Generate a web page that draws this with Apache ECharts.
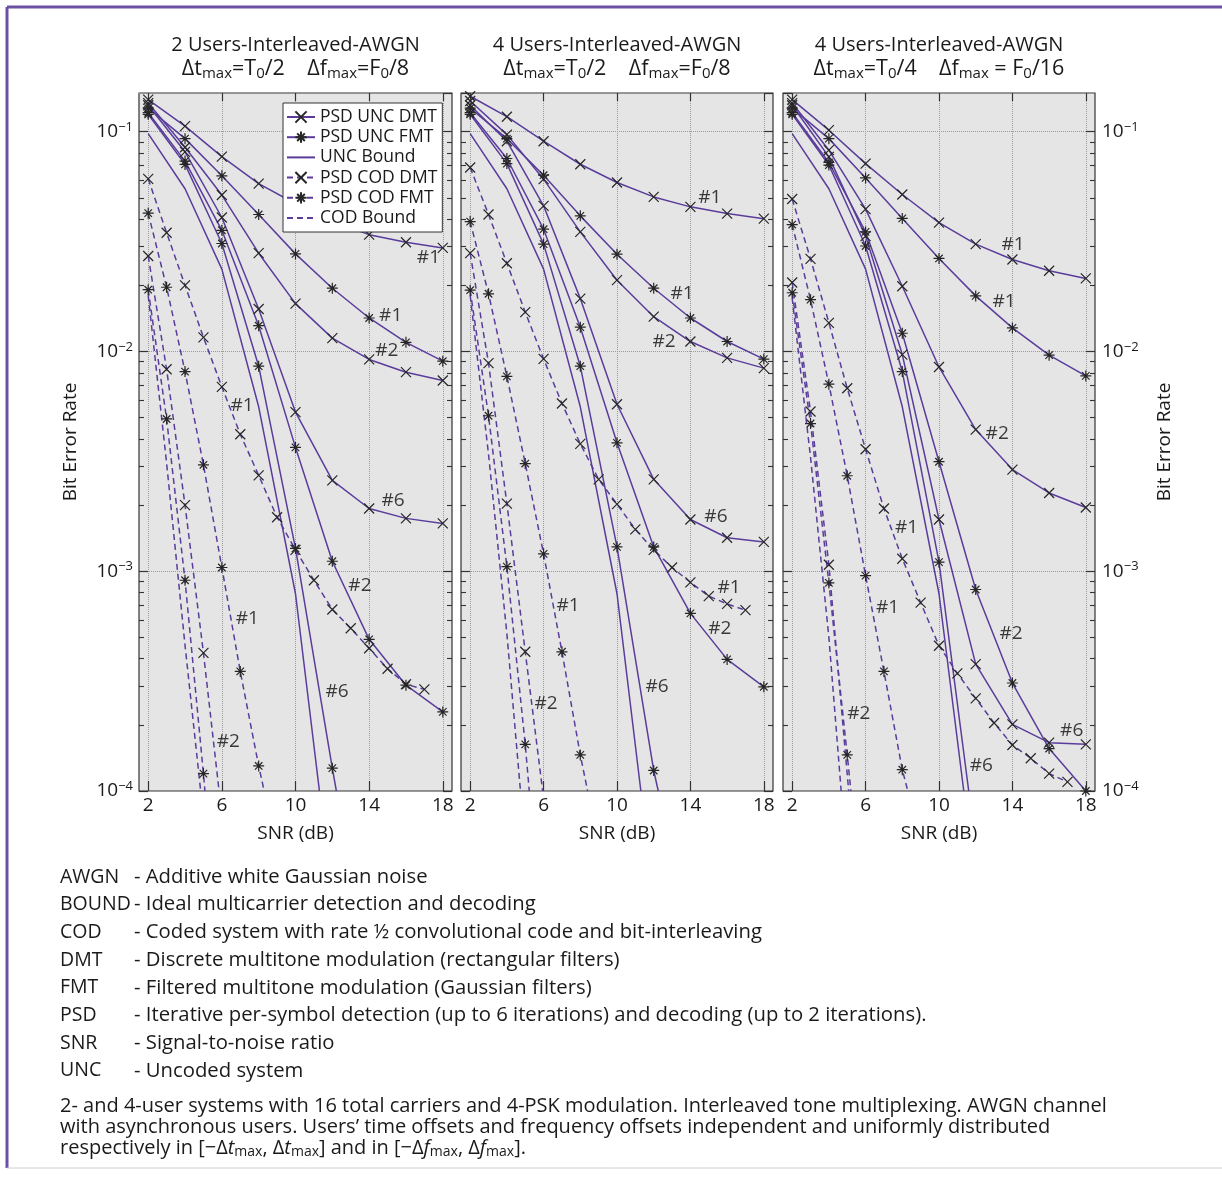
<!DOCTYPE html>
<html><head><meta charset="utf-8">
<script src="https://cdn.jsdelivr.net/npm/echarts@6/dist/echarts.min.js"></script>
<style>html,body{margin:0;padding:0;background:#fff}#c{width:1222px;height:1195px}</style>
</head><body><div id="c"></div>
<script>
// ---------------- DATA (SNR dB, bit error rate) ----------------
const snrTicks = [2, 6, 10, 14, 18];
const legendNames = ['PSD UNC DMT','PSD UNC FMT','UNC Bound','PSD COD DMT','PSD COD FMT','COD Bound'];

// Panel 1: 2 users, dt=T0/2, df=F0/8
const a_uncDmt1 = [[2,0.14],[4,0.106],[6,0.077],[8,0.058],[10,0.047],[12,0.039],[14,0.034],[16,0.0314],[18,0.0296]];
const a_uncDmt2 = [[2,0.135],[4,0.085],[6,0.0515],[8,0.028],[10,0.0165],[12,0.0115],[14,0.0092],[16,0.00805],[18,0.00738]];
const a_uncDmt6 = [[2,0.132],[4,0.081],[6,0.0407],[8,0.0156],[10,0.0053],[12,0.00259],[14,0.00193],[16,0.00174],[18,0.00165]];
const a_uncFmt1 = [[2,0.128],[4,0.093],[6,0.063],[8,0.042],[10,0.0278],[12,0.0194],[14,0.0142],[16,0.011],[18,0.00903]];
const a_uncFmt2 = [[2,0.122],[4,0.0735],[6,0.0356],[8,0.0131],[10,0.00366],[12,0.00111],[14,0.00049],[16,0.000303],[18,0.000229]];
const a_uncFmt6 = [[2,0.12],[4,0.071],[6,0.031],[8,0.00857],[10,0.00127],[12,0.000127],[12.22,0.0001]];
const a_uncBound = [[2,0.098],[4,0.055],[6,0.0237],[8,0.0056],[10,0.00079],[11.3,0.0001]];
const a_codDmt1 = [[2,0.061],[3,0.0347],[4,0.02],[5,0.0116],[6,0.0069],[7,0.0042],[8,0.00273],[9,0.00176],[10,0.00125],[11,0.00091],[12,0.00067],[13,0.00055],[14,0.000446],[15,0.00036],[16,0.000306],[17,0.00029]];
const a_codDmt2 = [[2,0.0272],[3,0.0083],[4,0.002],[5,0.000425],[5.85,0.0001]];
const a_codFmt1 = [[2,0.0426],[3,0.0196],[4,0.0081],[5,0.00305],[6,0.00104],[7,0.00035],[8,0.00013],[8.3,0.0001]];
const a_codFmt2 = [[2,0.0191],[3,0.00493],[4,0.00091],[5,0.00012],[5.08,0.0001]];
const a_codBound = [[2,0.018],[3,0.0031],[4,0.00046],[4.85,0.0001]];
const a_notes = [[17.22,0.0266,'#1'],[15.17,0.0146,'#1'],[14.96,0.0101,'#2'],[7.1,0.0057,'#1'],[15.3,0.0021,'#6'],[13.5,0.00086,'#2'],[7.38,0.00061,'#1'],[12.26,0.000282,'#6'],[6.35,0.000167,'#2']];

// Panel 2: 4 users, dt=T0/2, df=F0/8
const b_uncDmt1 = [[2,0.145],[4,0.117],[6,0.0905],[8,0.0711],[10,0.0587],[12,0.0505],[14,0.0455],[16,0.0424],[18,0.0402]];
const b_uncDmt2 = [[2,0.138],[4,0.097],[6,0.0608],[8,0.035],[10,0.0211],[12,0.0144],[14,0.0111],[16,0.00935],[18,0.0084]];
const b_uncDmt6 = [[2,0.132],[4,0.0905],[6,0.046],[8,0.0174],[10,0.00575],[12,0.00262],[14,0.00172],[16,0.00142],[18,0.00136]];
const b_uncFmt1 = [[2,0.128],[4,0.093],[6,0.0634],[8,0.0414],[10,0.0277],[12,0.0194],[14,0.0142],[16,0.0111],[18,0.00923]];
const b_uncFmt2 = [[2,0.122],[4,0.0755],[6,0.036],[8,0.0129],[10,0.00384],[12,0.00129],[14,0.000643],[16,0.000397],[18,0.000298]];
const b_uncFmt6 = [[2,0.12],[4,0.0716],[6,0.0308],[8,0.00857],[10,0.00129],[12,0.000124],[12.25,0.0001]];
const b_uncBound = [[2,0.098],[4,0.055],[6,0.0237],[8,0.0056],[10,0.00079],[11.3,0.0001]];
const b_codDmt1 = [[2,0.0687],[3,0.042],[4,0.0252],[5,0.0151],[6,0.00925],[7,0.0058],[8,0.0038],[9,0.00262],[10,0.00202],[11,0.00155],[12,0.00125],[13,0.00104],[14,0.00089],[15,0.00077],[16,0.00071],[17,0.000665]];
const b_codDmt2 = [[2,0.028],[3,0.00885],[4,0.00203],[5,0.00043],[5.95,0.0001]];
const b_codFmt1 = [[2,0.039],[3,0.0183],[4,0.0077],[5,0.00309],[6,0.0012],[7,0.00043],[8,0.000146],[8.4,0.0001]];
const b_codFmt2 = [[2,0.019],[3,0.0051],[4,0.00105],[5,0.000163],[5.22,0.0001]];
const b_codBound = [[2,0.018],[3,0.0034],[4,0.00052],[4.74,0.0001]];
const b_notes = [[15.06,0.0504,'#1'],[13.54,0.0184,'#1'],[12.56,0.0111,'#2'],[15.39,0.00178,'#6'],[16.1,0.00084,'#1'],[7.33,0.0007,'#1'],[15.6,0.00055,'#2'],[12.18,0.0003,'#6'],[6.14,0.00025,'#2']];

// Panel 3: 4 users, dt=T0/4, df=F0/16
const c_uncDmt1 = [[2,0.14],[4,0.1016],[6,0.0716],[8,0.0518],[10,0.0386],[12,0.0308],[14,0.0262],[16,0.0233],[18,0.0215]];
const c_uncDmt2 = [[2,0.135],[4,0.0824],[6,0.0444],[8,0.0198],[10,0.0085],[12,0.00441],[14,0.0029],[16,0.00227],[18,0.00195]];
const c_uncDmt6 = [[2,0.132],[4,0.0768],[6,0.0335],[8,0.00968],[10,0.00172],[12,0.000378],[14,0.000201],[16,0.000166],[18,0.000163]];
const c_uncFmt1 = [[2,0.128],[4,0.093],[6,0.0616],[8,0.0403],[10,0.0265],[12,0.0179],[14,0.0128],[16,0.00962],[18,0.00774]];
const c_uncFmt2 = [[2,0.122],[4,0.0724],[6,0.035],[8,0.0121],[10,0.00315],[12,0.000826],[14,0.00031],[16,0.000156],[18,0.0001]];
const c_uncFmt6 = [[2,0.12],[4,0.0705],[6,0.0302],[8,0.0081],[10,0.0011],[11.62,0.0001]];
const c_uncBound = [[2,0.098],[4,0.055],[6,0.0237],[8,0.0056],[10,0.00079],[11.35,0.0001]];
const c_codDmt1 = [[2,0.0494],[3,0.0264],[4,0.0135],[5,0.0068],[6,0.00359],[7,0.00193],[8,0.00114],[9,0.00072],[10,0.000458],[11,0.000343],[12,0.000264],[13,0.000204],[14,0.000162],[15,0.000141],[16,0.00012],[17,0.00011]];
const c_codDmt2 = [[2,0.0206],[3,0.00533],[4,0.00107],[5.08,0.0001]];
const c_codFmt1 = [[2,0.0378],[3,0.0172],[4,0.0071],[5,0.00272],[6,0.000955],[7,0.00035],[8,0.000125],[8.3,0.0001]];
const c_codFmt2 = [[2,0.0185],[3,0.0047],[4,0.000885],[5,0.000146],[5.2,0.0001]];
const c_codBound = [[2,0.0175],[3,0.0033],[4,0.0005],[4.67,0.0001]];
const c_notes = [[14.04,0.0308,'#1'],[13.55,0.0169,'#1'],[13.17,0.00425,'#2'],[8.23,0.00158,'#1'],[7.2,0.000686,'#1'],[13.93,0.00052,'#2'],[5.63,0.000224,'#2'],[17.23,0.000189,'#6'],[12.3,0.00013,'#6']];

const glossary = [
  ['AWGN','Additive white Gaussian noise'],
  ['BOUND','Ideal multicarrier detection and decoding'],
  ['COD','Coded system with rate \u00bd convolutional code and bit-interleaving'],
  ['DMT','Discrete multitone modulation (rectangular filters)'],
  ['FMT','Filtered multitone modulation (Gaussian filters)'],
  ['PSD','Iterative per-symbol detection (up to 6 iterations) and decoding (up to 2 iterations).'],
  ['SNR','Signal-to-noise ratio'],
  ['UNC','Uncoded system']
];

// ---------------- STYLE / LAYOUT ----------------
const FONT = "'Open Sans','Noto Sans','DejaVu Sans',sans-serif";
const PURPLE = '#5a3c9b';
const INK = '#1a1a1a';
const MARK = '#262626';
const YMIN = 1e-4, YMAX = 0.15;
const LOGMAX = Math.log10(YMAX);
const X_SYM = 'path://M0,0L10,10M10,0L0,10';
const STAR_SYM = 'path://M5,0L5,10M0,5L10,5M1.6,1.6L8.4,8.4M8.4,1.6L1.6,8.4';

const minorExp = [];
for (let d = -4; d <= -2; d++) for (let k = 2; k <= 9; k++) minorExp.push(d + Math.log10(k));

const panels = [
  {left:139, width:313, s:{uncDmt1:a_uncDmt1,uncDmt2:a_uncDmt2,uncDmt6:a_uncDmt6,uncFmt1:a_uncFmt1,uncFmt2:a_uncFmt2,uncFmt6:a_uncFmt6,uncBound:a_uncBound,codDmt1:a_codDmt1,codDmt2:a_codDmt2,codFmt1:a_codFmt1,codFmt2:a_codFmt2,codBound:a_codBound}, notes:a_notes,
   t1:'2 Users-Interleaved-AWGN', t2:'{n|\u0394t}{s|max}{n|=T}{s|0}{n|/2    \u0394f}{s|max}{n|=F}{s|0}{n|/8}'},
  {left:461, width:312, s:{uncDmt1:b_uncDmt1,uncDmt2:b_uncDmt2,uncDmt6:b_uncDmt6,uncFmt1:b_uncFmt1,uncFmt2:b_uncFmt2,uncFmt6:b_uncFmt6,uncBound:b_uncBound,codDmt1:b_codDmt1,codDmt2:b_codDmt2,codFmt1:b_codFmt1,codFmt2:b_codFmt2,codBound:b_codBound}, notes:b_notes,
   t1:'4 Users-Interleaved-AWGN', t2:'{n|\u0394t}{s|max}{n|=T}{s|0}{n|/2    \u0394f}{s|max}{n|=F}{s|0}{n|/8}'},
  {left:783, width:312, s:{uncDmt1:c_uncDmt1,uncDmt2:c_uncDmt2,uncDmt6:c_uncDmt6,uncFmt1:c_uncFmt1,uncFmt2:c_uncFmt2,uncFmt6:c_uncFmt6,uncBound:c_uncBound,codDmt1:c_codDmt1,codDmt2:c_codDmt2,codFmt1:c_codFmt1,codFmt2:c_codFmt2,codBound:c_codBound}, notes:c_notes,
   t1:'4 Users-Interleaved-AWGN', t2:'{n|\u0394t}{s|max}{n|=T}{s|0}{n|/4    \u0394f}{s|max}{n| = F}{s|0}{n|/16}'}
];

const kinds = [
  ['UNC Bound','uncBound',null,false],
  ['COD Bound','codBound',null,true],
  ['PSD COD DMT','codDmt1',X_SYM,true],
  ['PSD COD DMT','codDmt2',X_SYM,true],
  ['PSD COD FMT','codFmt1',STAR_SYM,true],
  ['PSD COD FMT','codFmt2',STAR_SYM,true],
  ['PSD UNC DMT','uncDmt1',X_SYM,false],
  ['PSD UNC DMT','uncDmt2',X_SYM,false],
  ['PSD UNC DMT','uncDmt6',X_SYM,false],
  ['PSD UNC FMT','uncFmt1',STAR_SYM,false],
  ['PSD UNC FMT','uncFmt2',STAR_SYM,false],
  ['PSD UNC FMT','uncFmt6',STAR_SYM,false]
];

const supRich = {
  a:{fontSize:19, lineHeight:22, color:INK, fontFamily:FONT},
  b:{fontSize:13, lineHeight:12, color:INK, fontFamily:FONT, verticalAlign:'top'}
};
function decadeLabel(v){
  const l = Math.log10(v), e = Math.round(l);
  if (Math.abs(l - e) > 1e-6) return '';
  return '{a|10}{b|\u2212' + (-e) + '}';
}

const grids = [], xAxes = [], yAxes = [], series = [];
panels.forEach((p, g) => {
  grids.push({left:p.left, top:93, width:p.width, height:698, show:true, backgroundColor:'#e5e5e5', borderColor:'#333', borderWidth:1.2});
  xAxes.push({
    type:'value', gridIndex:g, position:'bottom', min:1.5, max:18.5,
    axisLine:{show:false},
    axisTick:{show:true, inside:true, length:10, customValues:snrTicks, lineStyle:{color:'#333', width:1.2}},
    axisLabel:{customValues:snrTicks, fontSize:19, color:INK, fontFamily:FONT, margin:5},
    splitLine:{show:true, lineStyle:{type:'dotted', color:'#9a9a9a', width:1}},
    name:'SNR (dB)', nameLocation:'middle', nameGap:33, nameTextStyle:{fontSize:19, color:INK, fontFamily:FONT}
  });
  xAxes.push({
    type:'value', gridIndex:g, position:'top', min:1.5, max:18.5,
    axisLine:{show:false},
    axisTick:{show:true, inside:true, length:8, customValues:snrTicks, lineStyle:{color:'#333', width:1.2}},
    axisLabel:{show:false}, splitLine:{show:false}
  });
  yAxes.push({
    type:'log', logBase:10, gridIndex:g, position:'left', min:YMIN, max:YMAX,
    axisLine:{show:false},
    axisTick:{show:true, inside:true, length:9, lineStyle:{color:'#333', width:1.2}},
    axisLabel:{show:g===0, formatter:decadeLabel, rich:supRich, margin:6, showMaxLabel:false},
    splitLine:{show:true, lineStyle:{type:'dotted', color:'#9a9a9a', width:1}},
    name: g===0 ? 'Bit Error Rate' : '', nameLocation:'middle', nameGap:59, nameRotate:90,
    nameTextStyle:{fontSize:19, color:INK, fontFamily:FONT}
  });
  yAxes.push({
    type:'value', gridIndex:g, position:'left', min:-4, max:LOGMAX,
    axisLine:{show:false},
    axisTick:{show:true, inside:true, length:5, customValues:minorExp, lineStyle:{color:'#333', width:1.1}},
    axisLabel:{show:false}, splitLine:{show:false}
  });
  yAxes.push({
    type:'log', logBase:10, gridIndex:g, position:'right', min:YMIN, max:YMAX,
    axisLine:{show:false},
    axisTick:{show:true, inside:true, length:9, lineStyle:{color:'#333', width:1.2}},
    axisLabel:{show:g===2, formatter:decadeLabel, rich:supRich, margin:7, showMaxLabel:false},
    splitLine:{show:false},
    name: g===2 ? 'Bit Error Rate' : '', nameLocation:'middle', nameGap:60, nameRotate:90,
    nameTextStyle:{fontSize:19, color:INK, fontFamily:FONT}
  });
  yAxes.push({
    type:'value', gridIndex:g, position:'right', min:-4, max:LOGMAX,
    axisLine:{show:false},
    axisTick:{show:true, inside:true, length:5, customValues:minorExp, lineStyle:{color:'#333', width:1.1}},
    axisLabel:{show:false}, splitLine:{show:false}
  });

  kinds.forEach(([name, key, sym, dashed]) => {
    const pts = p.s[key];
    const base = {
      type:'line', name, xAxisIndex:g*2, yAxisIndex:g*4, clip:true, silent:true,
      lineStyle:{color:PURPLE, width:1.5, type: dashed ? [6,4] : 'solid'},
      emphasis:{disabled:true}
    };
    if (sym) {
      Object.assign(base, {
        data: pts.map(([x,y]) => Number.isInteger(x) ? [x,y] : {value:[x,y], symbol:'none'}),
        symbol: sym, symbolSize: sym === STAR_SYM ? 11 : 10, showSymbol:true,
        itemStyle:{color:MARK, borderColor:MARK, borderWidth:1.2}
      });
    } else {
      Object.assign(base, {
        data: pts, symbol:'rect', symbolSize:1, showSymbol:false,
        itemStyle:{color:'rgba(0,0,0,0)', borderWidth:0}
      });
    }
    series.push(base);
  });
  series.push({
    type:'scatter', name:'notes'+g, xAxisIndex:g*2, yAxisIndex:g*4, silent:true,
    data: p.notes, symbolSize:1, itemStyle:{color:'rgba(0,0,0,0)'},
    label:{show:true, position:'inside', formatter: q => q.value[2], fontSize:19, color:'#0d0d0d', fontFamily:FONT},
    z:5
  });
});

// ---------------- GRAPHIC TEXT ----------------
const graphics = [];
graphics.push({type:'line', shape:{x1:7, y1:7, x2:1222, y2:7}, style:{stroke:'#6b50a3', lineWidth:3}, silent:true});
graphics.push({type:'line', shape:{x1:7, y1:7, x2:7, y2:1168}, style:{stroke:'#6b50a3', lineWidth:3}, silent:true});
graphics.push({type:'line', shape:{x1:7, y1:1168, x2:1222, y2:1168}, style:{stroke:'#cfcfd8', lineWidth:1}, silent:true});

const titleRich = {
  n:{fontSize:21.5, lineHeight:24, color:INK, fontFamily:FONT},
  s:{fontSize:15, lineHeight:13, color:INK, fontFamily:FONT, verticalAlign:'bottom'}
};
panels.forEach(p => {
  const cx = p.left + p.width/2;
  graphics.push({type:'text', x:cx, y:45, silent:true,
    style:{text:p.t1, fontSize:20, fontFamily:FONT, fill:INK, align:'center', verticalAlign:'middle', textAlign:'center', textVerticalAlign:'middle'}});
  graphics.push({type:'text', x:cx, y:69, silent:true,
    style:{text:p.t2, fontSize:21.5, fontFamily:FONT, fill:INK, rich:titleRich, align:'center', verticalAlign:'middle', textAlign:'center', textVerticalAlign:'middle'}});
});

glossary.forEach(([ab, desc], i) => {
  const y = 877 + i * 27.7;
  graphics.push({type:'text', x:60, y, silent:true,
    style:{text:ab, fontSize:19.5, fontFamily:FONT, fill:INK, verticalAlign:'middle', textVerticalAlign:'middle'}});
  graphics.push({type:'text', x:134, y, silent:true,
    style:{text:'- ' + desc, fontSize:20.3, fontFamily:FONT, fill:INK, verticalAlign:'middle', textVerticalAlign:'middle'}});
});

const para = [
  '2- and 4-user systems with 16 total carriers and 4-PSK modulation. Interleaved tone multiplexing. AWGN channel',
  'with asynchronous users. Users\u2019 time offsets and frequency offsets independent and uniformly distributed',
  '{n|respectively in [\u2212\u0394}{i|t}{s|max}{n|, \u0394}{i|t}{s|max}{n|] and in [\u2212\u0394}{i|f}{s|max}{n|, \u0394}{i|f}{s|max}{n|].}'
];
const paraRich = {
  n:{fontSize:20, lineHeight:22, color:INK, fontFamily:FONT},
  i:{fontSize:20, lineHeight:22, color:INK, fontFamily:FONT, fontStyle:'italic'},
  s:{fontSize:14, lineHeight:12, color:INK, fontFamily:FONT, verticalAlign:'bottom'}
};
para.forEach((t, i) => {
  graphics.push({type:'text', x:60, y:1106 + i*21, silent:true,
    style:{text:t, fontSize:20, fontFamily:FONT, fill:INK, rich:paraRich, verticalAlign:'middle', textVerticalAlign:'middle'}});
});

const chart = echarts.init(document.getElementById('c'));
chart.setOption({
  animation:false,
  backgroundColor:'#fff',
  textStyle:{fontFamily:FONT},
  grid:grids, xAxis:xAxes, yAxis:yAxes, series,
  legend:{
    data:legendNames, left:283, top:103, orient:'vertical', selectedMode:false,
    itemWidth:28, itemHeight:14, itemGap:2.2, padding:[5,5,5,3],
    backgroundColor:'#fff', borderColor:'#333', borderWidth:1, borderRadius:0,
    textStyle:{fontSize:17.5, color:INK, fontFamily:FONT}, z:20
  },
  graphic:graphics
});
</script></body></html>
